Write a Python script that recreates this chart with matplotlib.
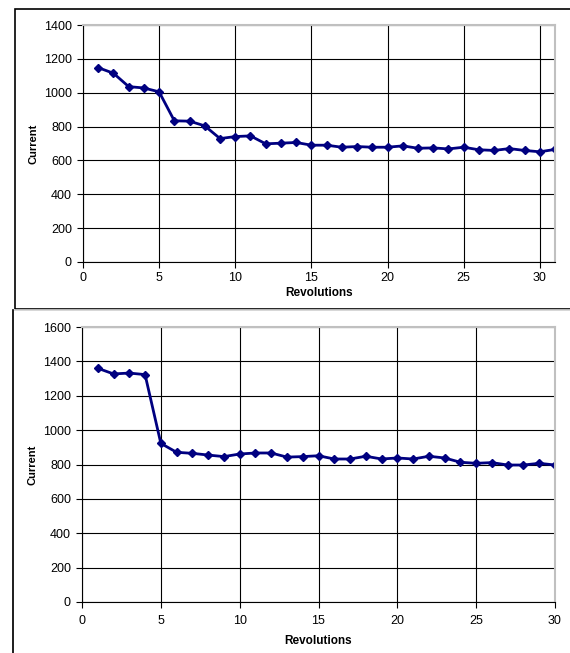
import matplotlib
matplotlib.use("Agg")
import matplotlib.pyplot as plt
from matplotlib.patches import Rectangle

plt.rcParams['font.family'] = ['Liberation Sans', 'DejaVu Sans']

# top chart
rev_top = list(range(1, 32))
current_top = [1148, 1115, 1036, 1028, 1005, 834, 832, 804, 729, 741, 745,
               698, 702, 706, 690, 690, 678, 682, 678, 678, 686, 672, 674,
               668, 678, 663, 659, 670, 659, 651, 665]

# bottom chart
rev_bot = list(range(1, 31))
current_bot = [1360, 1327, 1332, 1323, 923, 871, 865, 855, 846, 861, 867,
               867, 843, 846, 851, 832, 832, 848, 832, 838, 832, 848, 838,
               813, 807, 811, 797, 797, 807, 797]

W, H = 570, 653
fig = plt.figure(figsize=(W / 100, H / 100), dpi=100)


def px(x0, y0, x1, y1):
    # pixel box -> figure fraction [left, bottom, width, height]
    return [x0 / W, 1 - y1 / H, (x1 - x0) / W, (y1 - y0) / H]


# outer frames around each chart
fig.patches.append(Rectangle((15 / W, 1 - 309 / H), 600 / W, 300 / H,
                             transform=fig.transFigure, fill=False,
                             edgecolor='black', lw=1.2))
fig.patches.append(Rectangle((13 / W, -0.1), 600 / W, 1 - 310 / H + 0.1,
                             transform=fig.transFigure, fill=False,
                             edgecolor='#d0d0d0', lw=1.2))
fig.add_artist(plt.Line2D([13 / W, 13 / W], [0, 1 - 310 / H],
                          transform=fig.transFigure, color='black', lw=1.2))


def draw(ax, x, y, xmax, ymax, xpad, xlpad):
    ax.plot(x, y, color='#000080', lw=2, marker='D', ms=4, mec='#000080')
    ax.set_xlim(0, xmax)
    ax.set_ylim(0, ymax)
    ax.set_xticks(range(0, 31, 5))
    ax.set_yticks(range(0, ymax + 1, 200))
    ax.grid(True, color='black', lw=0.8)
    ax.set_axisbelow(True)
    for s in ('top', 'right'):
        ax.spines[s].set_color('#c0c0c0')
        ax.spines[s].set_linewidth(1.5)
    for s in ('left', 'bottom'):
        ax.spines[s].set_color('black')
        ax.spines[s].set_linewidth(0.8)
    ax.tick_params(direction='out', length=4, width=0.8, labelsize=9,
                   colors='black', pad=4)
    ax.tick_params(axis='x', pad=xpad)
    ax.set_xlabel('Revolutions', fontsize=8.5, fontweight='bold', labelpad=xlpad)
    ax.set_ylabel('Current', fontsize=8, fontweight='bold', labelpad=4)


ax1 = fig.add_axes(px(83, 25, 555, 262))
draw(ax1, rev_top, current_top, 31, 1400, 3, 2)

ax2 = fig.add_axes(px(82, 327, 555, 602))
draw(ax2, rev_bot, current_bot, 30, 1600, 5, 6)

fig.savefig('out.png', dpi=100)
